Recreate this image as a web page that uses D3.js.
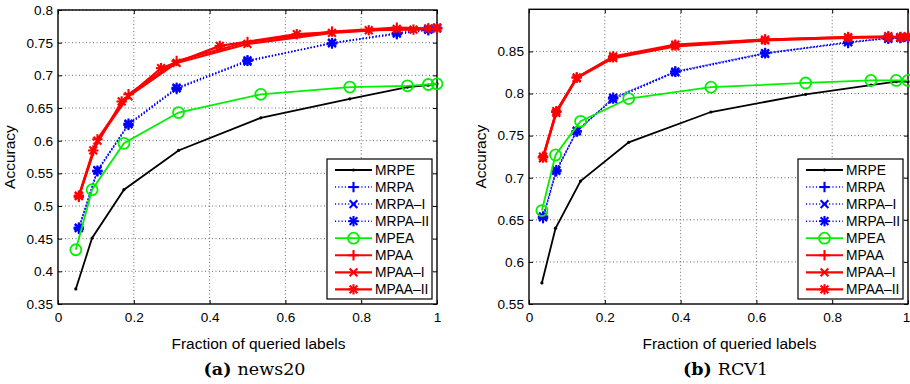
<!DOCTYPE html>
<html>
<head>
<meta charset="utf-8">
<script src="https://cdn.jsdelivr.net/npm/d3@7"></script>
<style>
  body { margin: 0; background: #fff; }
  svg { display: block; font-family: "Liberation Sans", Arial, Helvetica, sans-serif; }
</style>
</head>
<body>
<div id="chart"></div>
<script>
// ---- data ----
const xTicks = [0, 0.2, 0.4, 0.6, 0.8, 1];
const news20YTicks = [0.35, 0.4, 0.45, 0.5, 0.55, 0.6, 0.65, 0.7, 0.75, 0.8];
const rcv1YTicks = [0.55, 0.6, 0.65, 0.7, 0.75, 0.8, 0.85];

const seriesNames = ['MRPE', 'MRPA', 'MRPA\u2013I', 'MRPA\u2013II', 'MPEA', 'MPAA', 'MPAA\u2013I', 'MPAA\u2013II'];

// news20
const news20XA = [0.047, 0.09, 0.174, 0.318, 0.535, 0.77, 0.922, 0.977, 1.0];
const news20XB = [0.055, 0.104, 0.186, 0.313, 0.5, 0.723, 0.894, 0.977, 1.0];
const news20XC = [0.055, 0.093, 0.168, 0.272, 0.427, 0.63, 0.82, 0.938, 1.0];
const news20MRPE = [0.373, 0.451, 0.525, 0.585, 0.635, 0.664, 0.682, 0.685, 0.687];
const news20MPEA = [0.433, 0.525, 0.596, 0.643, 0.671, 0.682, 0.684, 0.686, 0.687];
const news20MRPA = [0.465, 0.553, 0.624, 0.679, 0.722, 0.749, 0.763, 0.769, 0.772];
const news20MRPA1 = [0.466, 0.555, 0.625, 0.68, 0.721, 0.75, 0.764, 0.77, 0.772];
const news20MRPA2 = [0.467, 0.554, 0.626, 0.681, 0.723, 0.749, 0.765, 0.77, 0.773];
const news20MPAA = [0.514, 0.602, 0.671, 0.722, 0.751, 0.767, 0.773, 0.772, 0.772];
const news20MPAA1 = [0.515, 0.6, 0.668, 0.719, 0.748, 0.765, 0.771, 0.772, 0.773];
const news20MPAA2 = [0.516, 0.585, 0.66, 0.711, 0.745, 0.763, 0.769, 0.77, 0.772];

// RCV1
const rcv1XA = [0.034, 0.07, 0.136, 0.263, 0.48, 0.73, 0.902, 0.969, 1.0];
const rcv1XB = [0.037, 0.072, 0.126, 0.222, 0.386, 0.623, 0.842, 0.948, 0.98, 1.0];
const rcv1MRPE = [0.575, 0.64, 0.696, 0.742, 0.778, 0.799, 0.81, 0.814, 0.814];
const rcv1MPEA = [0.661, 0.727, 0.767, 0.794, 0.8075, 0.8125, 0.8155, 0.8155, 0.8155];
const rcv1MRPA = [0.652, 0.7075, 0.755, 0.794, 0.826, 0.848, 0.86, 0.866, 0.866, 0.866];
const rcv1MRPA1 = [0.653, 0.708, 0.756, 0.793, 0.825, 0.847, 0.861, 0.866, 0.866, 0.866];
const rcv1MRPA2 = [0.654, 0.709, 0.755, 0.795, 0.826, 0.848, 0.861, 0.865, 0.866, 0.867];
const rcv1MPAA = [0.724, 0.778, 0.819, 0.843, 0.857, 0.864, 0.867, 0.867, 0.867, 0.867];
const rcv1MPAA1 = [0.723, 0.777, 0.818, 0.842, 0.856, 0.863, 0.866, 0.867, 0.867, 0.867];
const rcv1MPAA2 = [0.725, 0.779, 0.819, 0.844, 0.858, 0.864, 0.867, 0.868, 0.867, 0.868];

// style per series: colour, dotted?, marker
const styles = [
  { color: '#000', dotted: false, marker: 'dot', width: 1.8 },
  { color: '#0000ff', dotted: true, marker: 'plus', width: 1.5 },
  { color: '#0000ff', dotted: true, marker: 'cross', width: 1.5 },
  { color: '#0000ff', dotted: true, marker: 'star', width: 1.5 },
  { color: '#00f000', dotted: false, marker: 'circle', width: 1.8 },
  { color: '#ff0000', dotted: false, marker: 'plus', width: 2.2 },
  { color: '#ff0000', dotted: false, marker: 'cross', width: 2.2 },
  { color: '#ff0000', dotted: false, marker: 'star', width: 2.2 },
];

const panels = [
  {
    left: 58, right: 437, top: 10, bottom: 304,
    yDomain: [0.35, 0.8], yTicks: news20YTicks,
    xs: [news20XA, news20XB, news20XB, news20XB, news20XA, news20XB, news20XB, news20XC],
    ys: [news20MRPE, news20MRPA, news20MRPA1, news20MRPA2, news20MPEA, news20MPAA, news20MPAA1, news20MPAA2],
    letter: '(a)', name: 'news20',
  },
  {
    left: 529, right: 908, top: 9.3, bottom: 304,
    yDomain: [0.55, 0.9], yTicks: rcv1YTicks,
    xs: [rcv1XA, rcv1XB, rcv1XB, rcv1XB, rcv1XA, rcv1XB, rcv1XB, rcv1XB],
    ys: [rcv1MRPE, rcv1MRPA, rcv1MRPA1, rcv1MRPA2, rcv1MPEA, rcv1MPAA, rcv1MPAA1, rcv1MPAA2],
    letter: '(b)', name: 'RCV1',
  },
];

const svg = d3.select('#chart').append('svg').attr('width', 910).attr('height', 384);

function drawMarker(g, type, cx, cy, color) {
  const s = 5.2;
  if (type === 'dot') {
    g.append('circle').attr('cx', cx).attr('cy', cy).attr('r', 1.6).attr('fill', color);
    return;
  }
  if (type === 'circle') {
    g.append('circle').attr('cx', cx).attr('cy', cy).attr('r', 5.5)
      .attr('fill', 'none').attr('stroke', color).attr('stroke-width', 1.8);
    return;
  }
  const segs = [];
  if (type === 'plus' || type === 'star') {
    segs.push([cx - s, cy, cx + s, cy], [cx, cy - s, cx, cy + s]);
  }
  if (type === 'cross' || type === 'star') {
    const d = s * 0.75;
    segs.push([cx - d, cy - d, cx + d, cy + d], [cx - d, cy + d, cx + d, cy - d]);
  }
  segs.forEach((l) => {
    g.append('line').attr('x1', l[0]).attr('y1', l[1]).attr('x2', l[2]).attr('y2', l[3])
      .attr('stroke', color).attr('stroke-width', 2.1);
  });
}

panels.forEach((p) => {
  const x = d3.scaleLinear().domain([0, 1]).range([p.left, p.right]);
  const y = d3.scaleLinear().domain(p.yDomain).range([p.bottom, p.top]);
  const g = svg.append('g');

  // grid
  g.append('g').selectAll('line').data(xTicks.slice(1, -1)).enter().append('line')
    .attr('x1', (d) => x(d)).attr('x2', (d) => x(d)).attr('y1', p.top).attr('y2', p.bottom)
    .attr('stroke', '#444').attr('stroke-width', 0.8).attr('stroke-dasharray', '1,2.5');
  g.append('g').selectAll('line').data(p.yTicks.slice(1)).enter().append('line')
    .attr('y1', (d) => y(d)).attr('y2', (d) => y(d)).attr('x1', p.left).attr('x2', p.right)
    .attr('stroke', '#444').attr('stroke-width', 0.8).attr('stroke-dasharray', '1,2.5');

  // axes (ticks inward, box)
  const tk = 4;
  const axB = d3.axisBottom(x).tickValues(xTicks).tickFormat(d3.format('~g')).tickSize(-tk).tickPadding(8);
  const axL = d3.axisLeft(y).tickValues(p.yTicks).tickFormat(d3.format('~g')).tickSize(-tk).tickPadding(5);
  const axT = d3.axisTop(x).tickValues(xTicks).tickSize(-tk).tickFormat('');
  const axR = d3.axisRight(y).tickValues(p.yTicks).tickSize(-tk).tickFormat('');
  [
    [axB, `translate(0,${p.bottom})`],
    [axL, `translate(${p.left},0)`],
    [axT, `translate(0,${p.top})`],
    [axR, `translate(${p.right},0)`],
  ].forEach(([ax, tr]) => {
    const a = g.append('g').attr('transform', tr).call(ax);
    a.select('.domain').remove();
    a.selectAll('.tick line').attr('stroke', '#000').attr('stroke-width', 1);
    a.selectAll('text').attr('font-size', 13.6).attr('fill', '#000')
      .attr('font-family', '"Liberation Sans", Arial, sans-serif');
  });
  g.append('rect').attr('x', p.left).attr('y', p.top)
    .attr('width', p.right - p.left).attr('height', p.bottom - p.top)
    .attr('fill', 'none').attr('stroke', '#000').attr('stroke-width', 1.4);

  // series
  const line = d3.line();
  seriesNames.forEach((name, i) => {
    const st = styles[i];
    const pts = p.ys[i].map((v, j) => [x(p.xs[i][j]), y(v)]);
    const sg = g.append('g');
    sg.append('path').attr('d', line(pts)).attr('fill', 'none')
      .attr('stroke', st.color).attr('stroke-width', st.width)
      .attr('stroke-dasharray', st.dotted ? '1.1,2.2' : null);
    pts.forEach((pt) => drawMarker(sg, st.marker, pt[0], pt[1], st.color));
  });

  // legend
  const lw = 105, lh = 140;
  const lx = p.right - 5 - lw, ly = p.bottom - 5 - lh;
  const lg = g.append('g');
  lg.append('rect').attr('x', lx).attr('y', ly).attr('width', lw).attr('height', lh)
    .attr('fill', '#fff').attr('stroke', '#000').attr('stroke-width', 1.2);
  seriesNames.forEach((name, i) => {
    const st = styles[i];
    const ry = ly + 11 + i * 17.05;
    lg.append('line').attr('x1', lx + 8).attr('x2', lx + 45).attr('y1', ry).attr('y2', ry)
      .attr('stroke', st.color).attr('stroke-width', st.width)
      .attr('stroke-dasharray', st.dotted ? '1.1,2.2' : null);
    drawMarker(lg, st.marker, lx + 26.5, ry, st.color);
    lg.append('text').attr('x', lx + 48).attr('y', ry).attr('dy', '0.36em')
      .attr('font-size', 13.8).text(name);
  });

  // labels
  const cx = (p.left + p.right) / 2;
  svg.append('text').attr('x', cx + 11).attr('y', 349).attr('text-anchor', 'middle')
    .attr('font-size', 15.5).text('Fraction of queried labels');
  svg.append('text').attr('transform', `translate(${p.left - 43},${(p.top + p.bottom) / 2}) rotate(-90)`)
    .attr('text-anchor', 'middle').attr('font-size', 15.5).text('Accuracy');
  const cap = svg.append('text').attr('x', cx + 7).attr('y', 375).attr('text-anchor', 'middle')
    .attr('font-family', '"DejaVu Serif", "Liberation Serif", serif').attr('font-size', 17.5);
  cap.append('tspan').attr('font-weight', 'bold').text(p.letter + ' ');
  cap.append('tspan').text(p.name);
});

// keep the last x tick label of the right panel inside the page
svg.selectAll('.tick text').filter(function () {
  const b = this.getBoundingClientRect();
  return b.right > 909;
}).attr('dx', -2);
</script>
</body>
</html>
